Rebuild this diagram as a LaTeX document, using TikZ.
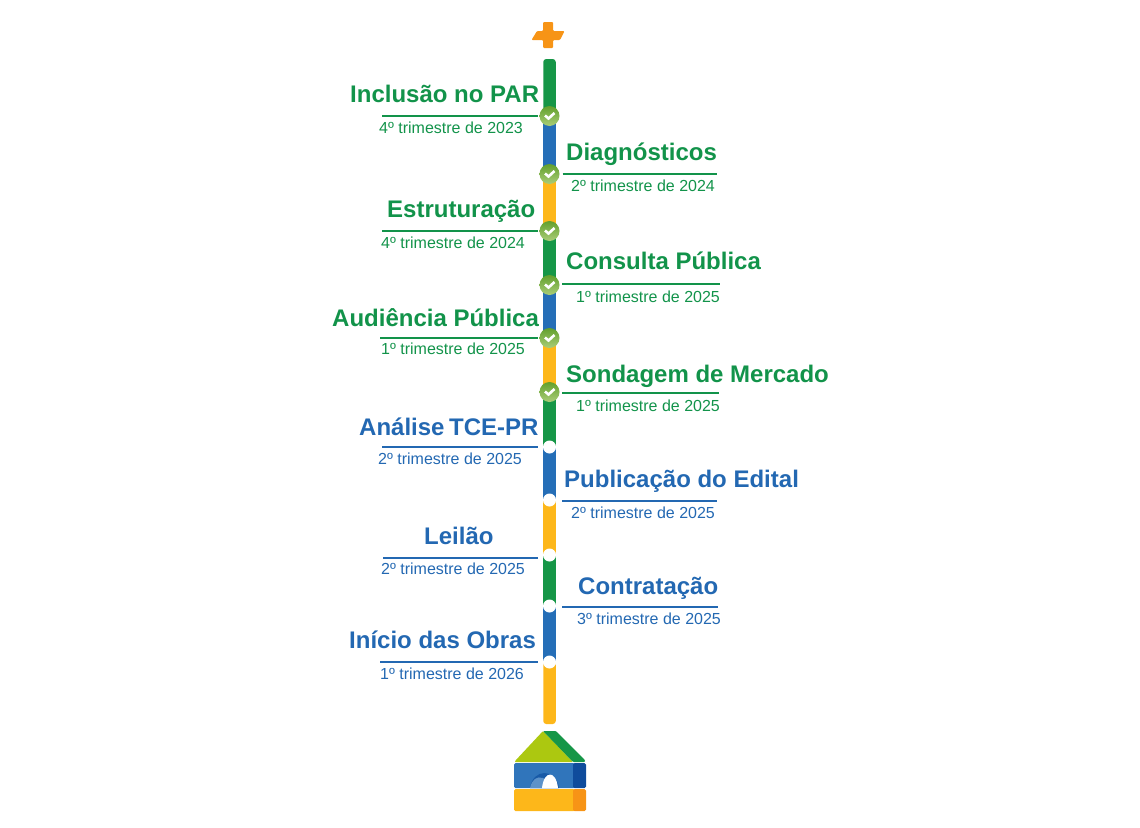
\documentclass[tikz,border=0pt]{standalone}
\usepackage{fontspec}
\setmainfont{Liberation Sans}
\usetikzlibrary{positioning,calc,backgrounds}
\definecolor{bargreen} {RGB}{ 22,150, 71}
\definecolor{barblue}  {RGB}{ 37,110,183}
\definecolor{baryellow}{RGB}{253,183, 26}
\definecolor{txtgreen} {RGB}{ 18,147, 74}
\definecolor{txtblue}  {RGB}{ 35,104,178}
\definecolor{plusorange}{RGB}{247,148, 22}
\definecolor{roofgreen}{RGB}{172,200, 16}
\definecolor{darkblue} {RGB}{ 15, 76,156}
\definecolor{bultop}   {RGB}{ 98,160, 44}
\definecolor{bulmid}   {RGB}{108,168, 56}
\definecolor{bulbot}   {RGB}{170,205,120}
\tikzset{
  ttl/.style  ={inner sep=0pt,anchor=base west,font=\fontsize{24}{29}\selectfont\bfseries},
  ttlg/.style ={ttl,text=txtgreen},
  ttlb/.style ={ttl,text=txtblue},
  dat/.style  ={inner sep=0pt,anchor=base west,font=\fontsize{16}{19}\selectfont},
  datg/.style ={dat,text=txtgreen},
  datb/.style ={dat,text=txtblue},
  ruleg/.style={draw=txtgreen,line width=1.4pt},
  ruleb/.style={draw=txtblue,line width=1.4pt},
  seg/.style  ={line width=12.5pt},
  open/.style ={circle,fill=white,minimum size=13pt,inner sep=0pt},
  done/.style ={circle,minimum size=20pt,inner sep=0pt,
                 top color=bultop,middle color=bulmid,bottom color=bulbot,
                 path picture={\draw[white,line width=2.6pt]
                   ([shift={(-4.5pt,0.5pt)}]path picture bounding box.center) --
                   ([shift={(-1pt,-2.5pt)}]path picture bounding box.center) --
                   ([shift={(5pt,3pt)}]path picture bounding box.center);}},
}
\begin{document}
\begin{tikzpicture}[x=1pt,y=-1pt]
  \useasboundingbox (0,0) rectangle (1140,827);
  % plus
  \fill[plusorange,rounded corners=1pt] (543,22) -- (553,22) -- (553,31) -- (564.5,31) -- (560,40)
    -- (553,40) -- (553,48) -- (543,48) -- (543,40) -- (531.5,40) -- (537,31) -- (543,31) -- cycle;
  % milestones
  \node[done] (par) at (549.5,116) {};
  \node[done] (dia) at (549.5,174) {};
  \node[done] (est) at (549.5,231) {};
  \node[done] (con) at (549.5,285) {};
  \node[done] (aud) at (549.5,338) {};
  \node[done] (son) at (549.5,392) {};
  \node[open] (tce) at (549.5,447) {};
  \node[open] (edi) at (549.5,500) {};
  \node[open] (lei) at (549.5,555) {};
  \node[open] (ctr) at (549.5,606) {};
  \node[open] (obr) at (549.5,662) {};
  \coordinate (barT) at (549.5,59);
  \coordinate (barB) at (549.5,724);
  % bar
  \begin{scope}[on background layer]
    \fill[bargreen,rounded corners=3pt] ($(barT)+(-6.25,0)$) rectangle ($(par)+(6.25,0)$);
    \draw[seg,barblue]   (par.center) -- (dia.center);
    \draw[seg,baryellow] (dia.center) -- (est.center);
    \draw[seg,bargreen]  (est.center) -- (con.center);
    \draw[seg,barblue]   (con.center) -- (aud.center);
    \draw[seg,baryellow] (aud.center) -- (son.center);
    \draw[seg,bargreen]  (son.center) -- (tce.center);
    \draw[seg,barblue]   (tce.center) -- (edi.center);
    \draw[seg,baryellow] (edi.center) -- (lei.center);
    \draw[seg,bargreen]  (lei.center) -- (ctr.center);
    \draw[seg,barblue]   (ctr.center) -- (obr.center);
    \fill[baryellow,rounded corners=3pt] ($(obr)+(-6.25,0)$) rectangle ($(barB)+(6.25,0)$);
  \end{scope}
  % labels
  \node[ttlg] (parT) at (350,102) {Inclusão no PAR};
  \node[datg] (parD) at (379,133) {4º trimestre de 2023};
  \coordinate (parL) at (382,116);
  \draw[ruleg,shorten <=12pt] (par.center) -- (parL);
  \node[ttlg] (diaT) at (566,160) {Diagnósticos};
  \node[datg] (diaD) at (571,191) {2º trimestre de 2024};
  \coordinate (diaL) at (717,174);
  \draw[ruleg,shorten <=13pt] (dia.center) -- (diaL);
  \node[ttlg] (estT) at (387,217) {Estruturação};
  \node[datg] (estD) at (381,248) {4º trimestre de 2024};
  \coordinate (estL) at (382,231);
  \draw[ruleg,shorten <=12pt] (est.center) -- (estL);
  \node[ttlg] (conT) at (566,269) {Consulta Pública};
  \node[datg] (conD) at (576,302) {1º trimestre de 2025};
  \coordinate (conL) at (720,284);
  \coordinate (conR) at (562,284);
  \draw[ruleg] (conR) -- (conL);
  \node[ttlg] (audT) at (332,326) {Audiência Pública};
  \node[datg] (audD) at (381,354) {1º trimestre de 2025};
  \coordinate (audL) at (380,338);
  \draw[ruleg,shorten <=12pt] (aud.center) -- (audL);
  \node[ttlg] (sonT) at (566,382) {Sondagem de Mercado};
  \node[datg] (sonD) at (576,411) {1º trimestre de 2025};
  \coordinate (sonL) at (719,393);
  \coordinate (sonR) at (562,393);
  \draw[ruleg] (sonR) -- (sonL);
  \node[ttlb] (tceT) at (359,435) {Análise\kern-2pt{} TCE-PR};
  \node[datb] (tceD) at (378,464) {2º trimestre de 2025};
  \coordinate (tceL) at (382,447);
  \draw[ruleb,shorten <=12pt] (tce.center) -- (tceL);
  \node[ttlb] (ediT) at (564,487) {Publicação do Edital};
  \node[datb] (ediD) at (571,518) {2º trimestre de 2025};
  \coordinate (ediL) at (717,501);
  \coordinate (ediR) at (562,501);
  \draw[ruleb] (ediR) -- (ediL);
  \node[ttlb] (leiT) at (424,544) {Leilão};
  \node[datb] (leiD) at (381,574) {2º trimestre de 2025};
  \coordinate (leiL) at (383,558);
  \coordinate (leiR) at (538,558);
  \draw[ruleb] (leiR) -- (leiL);
  \node[ttlb] (ctrT) at (578,594) {Contratação};
  \node[datb] (ctrD) at (577,624) {3º trimestre de 2025};
  \coordinate (ctrL) at (718,607);
  \coordinate (ctrR) at (562,607);
  \draw[ruleb] (ctrR) -- (ctrL);
  \node[ttlb] (obrT) at (349,648) {Início das Obras};
  \node[datb] (obrD) at (380,679) {1º trimestre de 2026};
  \coordinate (obrL) at (380,662);
  \draw[ruleb,shorten <=12pt] (obr.center) -- (obrL);
  % house
  \fill[roofgreen,rounded corners=1pt] (543,731) -- (515,761) -- (515,762) -- (573,762) -- cycle;
  \fill[bargreen,rounded corners=1pt] (543,731) -- (556,731) -- (585,760) -- (585,762) -- (573,762) -- cycle;
  \fill[barblue!95!white,rounded corners=1.5pt] (514,763) rectangle (575,788);
  \fill[darkblue,rounded corners=1.5pt] (573,763) rectangle (586,788);
  \fill[darkblue!60!barblue] (530,788) .. controls (533,768) and (556,768) .. (559,788) -- cycle;
  \fill[barblue!75!white] (530,788) .. controls (532,779) and (537,776) .. (543,778) -- (547,781) -- (542,788) -- cycle;
  \fill[white] (542,788) .. controls (544,770) and (556,770) .. (558,788) -- cycle;
  \fill[baryellow,rounded corners=1.5pt] (514,789) rectangle (575,811);
  \fill[plusorange,rounded corners=1.5pt] (573,789) rectangle (586,811);
\end{tikzpicture}
\end{document}
